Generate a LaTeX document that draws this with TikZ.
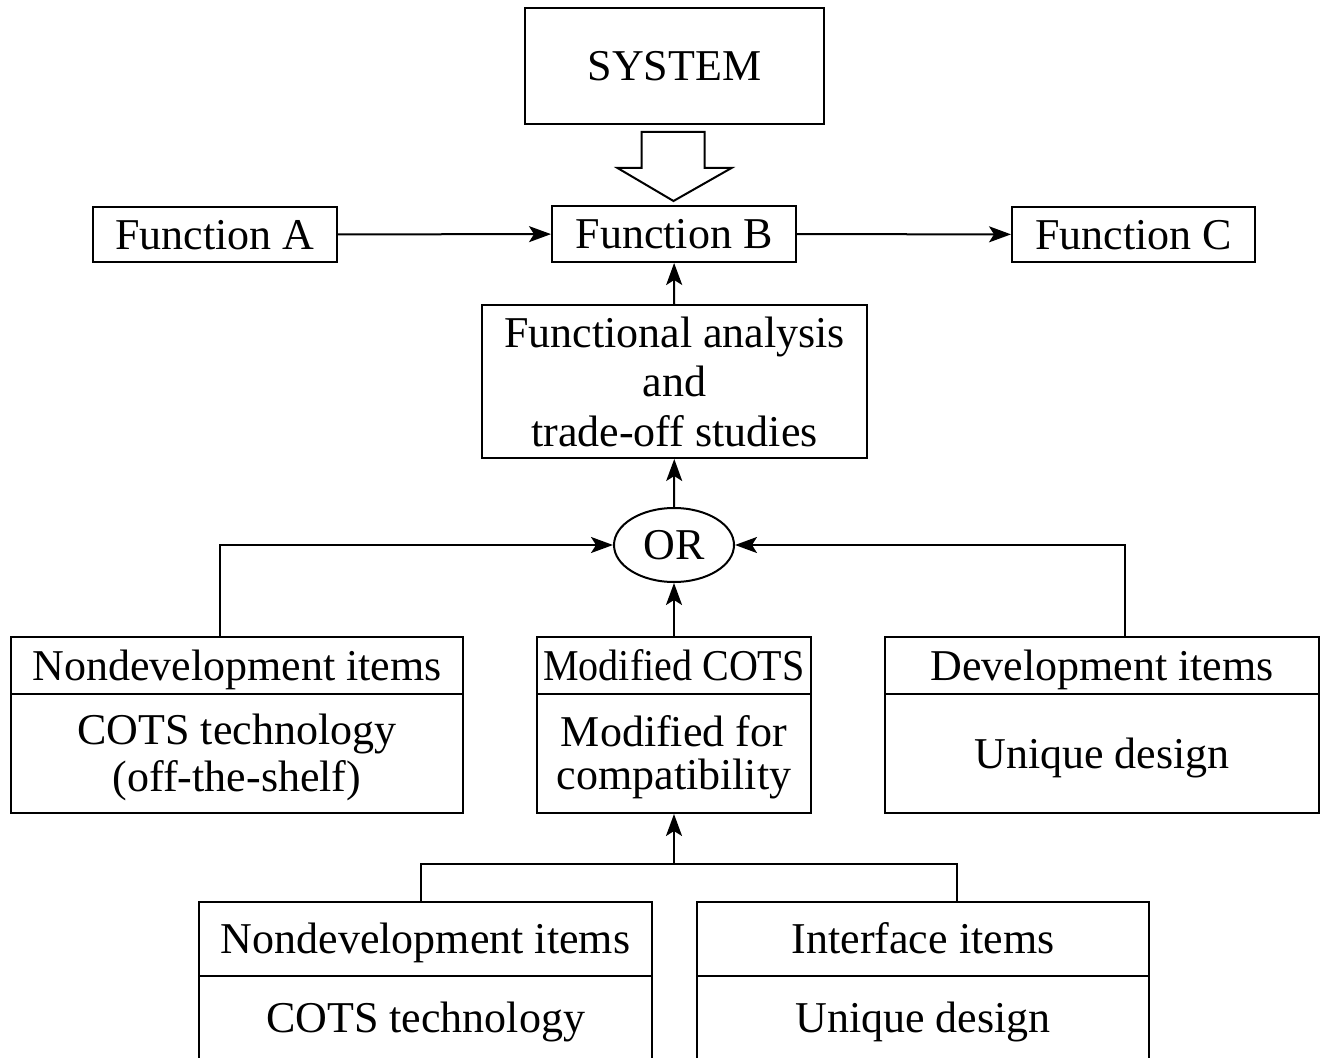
\documentclass[tikz,border=0pt]{standalone}
\usepackage{fontspec}
\setmainfont{Liberation Serif}
\usetikzlibrary{shapes.geometric,arrows.meta,calc}
\begin{document}
\begin{tikzpicture}[x=0.5pt,y=-0.5pt,
  every node/.style={font=\fontsize{22}{24}\selectfont},
  box/.style={draw,line width=1pt,inner sep=0pt,align=center},
  one/.style={text height=17pt,text depth=2.4pt},
  two/.style={font=\fontsize{22}{#1}\selectfont,text height=#1+17pt,text depth=2.4pt},
  arr/.style={line width=1pt,-{Stealth[length=11pt,width=8pt,inset=2.5pt]}},
  link/.style={line width=1pt},
  hollow/.style={draw,line width=1pt,line join=miter,fill=white}]
\clip (0,0) rectangle (1320,1058);
\fill[white] (0,0) rectangle (1320,1058);

% top row
\node[box,one,minimum width=149.5pt,minimum height=58pt] (sys) at (674.5,66) {SYSTEM};
\node[box,one,minimum width=122pt,minimum height=27.5pt] (fa) at (215,234.5) {Function A};
\node[box,one,minimum width=122pt,minimum height=28pt] (fb) at (674,234) {Function B};
\node[box,one,minimum width=121.5pt,minimum height=27.5pt] (fc) at (1133.5,234.5) {Function C};

% wide hollow arrow from the system to function B
\draw[hollow] ($(sys.south)+(-33,7)$) -- ($(sys.south)+(30,7)$) -- ($(sys.south)+(30,43)$)
  -- ($(sys.south)+(57,43)$) -- ($(sys.south)+(-1,76)$) -- ($(sys.south)+(-57,43)$)
  -- ($(sys.south)+(-33,43)$) -- cycle;

% analysis and the OR junction
\node[box,minimum width=192.5pt,minimum height=76.5pt,
  font=\fontsize{22}{24.75}\selectfont] (fan) at (674.5,381.5)
  {Functional analysis\\and\\trade-off studies};
\node[draw,ellipse,one,line width=1pt,inner sep=0pt,minimum width=60pt,minimum height=37pt] (or) at (674,545) {OR};

% item boxes, each with a heading part and a body part
\node[box,one,minimum width=226pt,minimum height=28.5pt] (ndTop) at (237,665.5) {Nondevelopment items};
\node[box,two=23.5pt,minimum width=226pt,minimum height=59.5pt] (ndBot) at (237,753.5) {COTS technology\\(off-the-shelf)};

\node[box,one,minimum width=137pt,minimum height=28.5pt] (mcTop) at (674,665.5) {\scalebox{0.91}[1]{Modified COTS}};
\node[box,two=21.5pt,minimum width=137pt,minimum height=59.5pt] (mcBot) at (674,753.5) {Modified for\\compatibility};

\node[box,one,minimum width=217pt,minimum height=28.5pt] (devTop) at (1102,665.5) {Development items};
\node[box,one,minimum width=217pt,minimum height=59.5pt] (devBot) at (1102,753.5) {Unique design};

\node[box,one,minimum width=226.5pt,minimum height=37pt] (lnTop) at (425.5,939) {Nondevelopment items};
\node[box,one,minimum width=226.5pt,minimum height=42pt] (lnBot) at (425.5,1018) {COTS technology};

\node[box,one,minimum width=226pt,minimum height=37pt] (liTop) at (923,939) {Interface items};
\node[box,one,minimum width=226pt,minimum height=42pt] (liBot) at (923,1018) {Unique design};

% connectors
\draw[arr] (fa) -- (fb);
\draw[arr] (fb) -- (fc);
\draw[arr] (fan) -- (fb);
\draw[arr] (or) -- (fan);
\draw[arr] (mcTop) -- (or);
\draw[arr] ([xshift=-8.5pt]ndTop.north) |- (or.west);
\draw[arr] ([xshift=11.5pt]devTop.north) |- (or.east);

\coordinate (join) at (674,864);
\draw[link] ([xshift=-2.25pt]lnTop.north) |- (join) -| ([xshift=17pt]liTop.north);
\draw[arr] (join) -- (mcBot.south);
\end{tikzpicture}
\end{document}
